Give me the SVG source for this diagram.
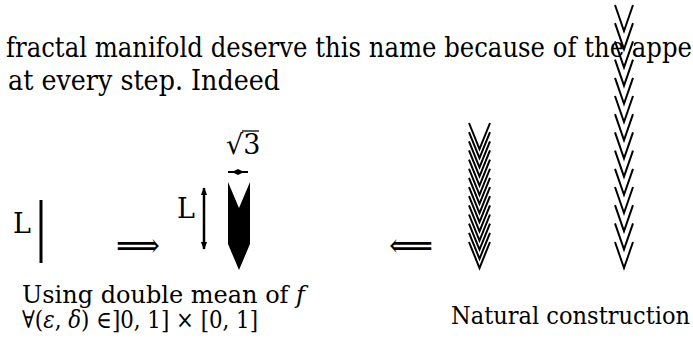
<svg xmlns="http://www.w3.org/2000/svg" width="693" height="347" viewBox="0 0 693 347">
<style>
  .t { font-size: 27px; fill: #000; }
  .c { font-size: 24px; fill: #000; }
  .a { font-size: 34px; fill: #000; }
  .it { font-style: italic; }
  .chev { fill: none; stroke: #000; stroke-width: 2; stroke-linejoin: miter; }
  .bar { stroke: #000; stroke-width: 3; fill: none; }
</style>
<defs>
  <marker id="ah" viewBox="0 0 10 10" refX="9" refY="5" markerWidth="3.2" markerHeight="3.2" orient="auto-start-reverse">
    <path d="M0,1 L10,5 L0,9 z" fill="#000"/>
  </marker>
  <polyline id="cR" points="615,0 624,26 633,0"/>
  <polyline id="cM" points="469,0 479.5,26 490,0"/>
</defs>
<g font-family="DejaVu Serif, serif">
<g id="header">
  <text class="t" x="6" y="57" textLength="686" lengthAdjust="spacingAndGlyphs">fractal manifold deserve this name because of the appe</text>
  <text class="t" x="8" y="90" textLength="272" lengthAdjust="spacingAndGlyphs">at every step. Indeed</text>
</g>

<g id="segment">
  <text class="t" x="13" y="233">L</text>
  <line class="bar" x1="41" y1="200" x2="41" y2="263"/>
</g>

<g id="compressed">
  <text class="t" x="226" y="154">√3</text>
  <line x1="242" y1="131" x2="259" y2="131" stroke="#000" stroke-width="1.3"/>
  <text class="t" x="177" y="218">L</text>
  <line x1="228" y1="172" x2="248" y2="172" stroke="#000" stroke-width="2"/>
  <path d="M232,172 L238,169 L244,172 L238,175 z" fill="#000"/>
  <line x1="204" y1="188" x2="204" y2="249" stroke="#000" stroke-width="2.5" marker-start="url(#ah)" marker-end="url(#ah)"/>
  <polygon points="228,182 239,208 250,182 250,244 239,270 228,244" fill="#000"/>
</g>

<g id="middle-chevrons" class="chev">
  <use href="#cM" y="123"/><use href="#cM" y="132.15"/><use href="#cM" y="141.3"/><use href="#cM" y="150.45"/>
  <use href="#cM" y="159.6"/><use href="#cM" y="168.75"/><use href="#cM" y="177.9"/><use href="#cM" y="187.05"/>
  <use href="#cM" y="196.2"/><use href="#cM" y="205.35"/><use href="#cM" y="214.5"/><use href="#cM" y="223.65"/>
  <use href="#cM" y="232.8"/><use href="#cM" y="242"/>
</g>

<g id="right-chevrons" class="chev">
  <use href="#cR" y="5"/><use href="#cR" y="23.2"/><use href="#cR" y="41.4"/><use href="#cR" y="59.6"/>
  <use href="#cR" y="77.8"/><use href="#cR" y="96"/><use href="#cR" y="114.2"/><use href="#cR" y="132.4"/>
  <use href="#cR" y="150.6"/><use href="#cR" y="168.8"/><use href="#cR" y="187"/><use href="#cR" y="205.2"/>
  <use href="#cR" y="223.4"/><use href="#cR" y="242"/>
</g>

<g id="connectors">
  <text class="a" x="116" y="257" textLength="44" lengthAdjust="spacingAndGlyphs">⟹</text>
  <text class="a" x="389" y="257" textLength="44" lengthAdjust="spacingAndGlyphs">⟸</text>
</g>

<g id="captions">
  <text class="c" x="22" y="303" textLength="283" lengthAdjust="spacingAndGlyphs">Using double mean of <tspan class="it">f</tspan></text>
  <text class="c" x="22" y="328" textLength="236" lengthAdjust="spacingAndGlyphs">∀(<tspan class="it">ε</tspan>, <tspan class="it">δ</tspan>) ∈]0, 1] × [0, 1]</text>
  <text class="c" x="451" y="324" textLength="239" lengthAdjust="spacingAndGlyphs">Natural construction</text>
</g>
</g>
</svg>
